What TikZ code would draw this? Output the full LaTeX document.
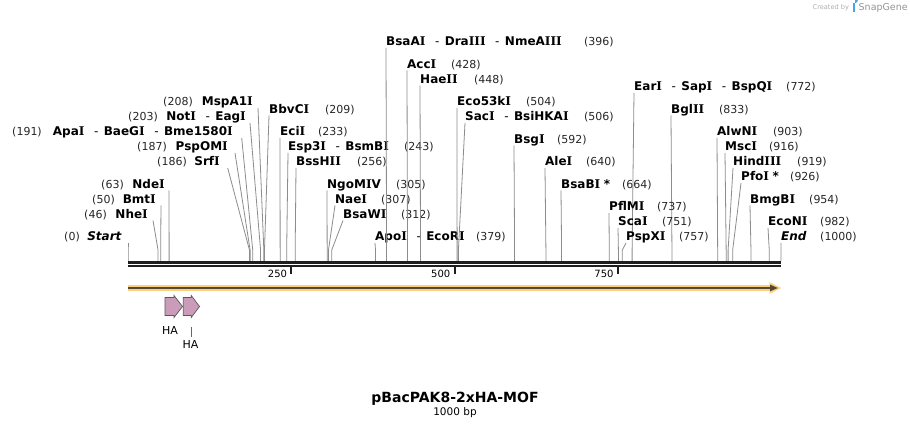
\documentclass[tikz,border=0pt]{standalone}
\usepackage{fontspec}
\setmainfont{DejaVu Sans}
\newfontfamily\dvserif{DejaVu Serif}
\definecolor{cutgray}{RGB}{140,140,140}
\definecolor{bbone}{RGB}{30,30,30}
\definecolor{featorange}{RGB}{252,208,125}
\definecolor{featdark}{RGB}{85,72,55}
\definecolor{hapink}{RGB}{203,156,186}
\definecolor{credgray}{RGB}{175,175,175}
\definecolor{logoblue}{RGB}{70,165,230}
\newcommand{\dsh}{\hspace{0.8em}\textmd{-}\hspace{0.45em}}
\newcommand{\sI}{{\dvserif\bfseries I}}
% right-hand label: id, name, name x, centre y, number x, bp
\newcommand{\enzR}[6]{%
  \node[enz, anchor=base west] (n#1) at (#3, #4+4.4) {#2};
  \node[numtxt, anchor=base west] (p#1) at (#5, #4+4.4) {(#6)};
  \coordinate (t#1) at (#3, #4+6.5);
  \coordinate (s#1) at ({128+0.653*#6}, 261);
  \draw[cutline] (s#1) -- ++(0,-11) -- (t#1);
}
% left-hand label: id, name, name right x, centre y, number right x, bp, line x
\newcommand{\enzL}[7]{%
  \node[enz, anchor=base east] (n#1) at (#3, #4+4.4) {#2};
  \node[numtxt, anchor=base east] (p#1) at (#5, #4+4.4) {(#6)};
  \coordinate (t#1) at (#7, #4+6.5);
  \coordinate (s#1) at ({128+0.653*#6}, 261);
  \draw[cutline] (s#1) -- ++(0,-11) -- (t#1);
}
\begin{document}
\begin{tikzpicture}[x=1pt, y=-1pt,
  enz/.style={font=\fontsize{12}{12}\selectfont\bfseries, inner sep=0pt, text=black},
  numtxt/.style={font=\fontsize{11}{11}\selectfont, inner sep=0pt, text=black!85},
  cutline/.style={draw=cutgray, line width=0.8pt},
  hashape/.style={fill=hapink, draw=black!65, line width=0.7pt, line join=miter},
  ticklbl/.style={font=\fontsize{10}{10}\selectfont, inner sep=0pt, anchor=base east}]
\fill[white] (0,0) rectangle (910,427);
\useasboundingbox (0,0) rectangle (910,427);

% credit
\node[font=\fontsize{6.6}{7}\selectfont, text=credgray, anchor=base west, inner sep=0pt] (cred) at (812.5,10) {Created by};
\fill[logoblue] (853,3) -- (855.2,3) -- (855.2,12.5) -- (853,12.5) -- cycle;
\fill[logoblue] (855.2,3) arc (90:-90:2.6) -- cycle;
\node[font=\fontsize{9.5}{10}\selectfont, text=credgray!85!black, anchor=base west, inner sep=0pt] (snap) at (858.5,11) {SnapGene};

% enzyme sites, left-hand labels
\enzL{start}{\textit{Start}}{122}{236.5}{80}{0}{128}
\enzL{nhe}{Nhe\sI}{148}{214}{107}{46}{153}
\enzL{bmt}{Bmt\sI}{156}{199}{115}{50}{161}
\enzL{nde}{Nde\sI}{165}{184}{124}{63}{169}
\enzL{srf}{Srf\sI}{220}{161.5}{187}{186}{227.7}
\enzL{pspo}{PspOM\sI}{228}{146.5}{167}{187}{235}
\enzL{apa}{Apa\sI\dsh BaeG\sI\dsh Bme1580\sI}{233}{131.5}{42}{191}{241.7}
\enzL{not}{Not\sI\dsh Eag\sI}{246}{116.5}{158}{203}{250}
\enzL{msp}{MspA1\sI}{253}{101.5}{193}{208}{258}

% enzyme sites, right-hand labels
\enzR{bbv}{BbvC\sI}{269}{109}{325}{209}
\enzR{eci}{Eci\sI}{280}{131.5}{318}{233}
\enzR{esp}{Esp3\sI\dsh BsmB\sI}{288}{146.5}{404}{243}
\enzR{bss}{BssH\sI\sI}{296}{161.5}{357}{256}
\enzR{ngo}{NgoM\sI V}{327}{184}{396}{305}
\enzR{nae}{Nae\sI}{335}{199}{381}{307}
\enzR{bsw}{BsaW\sI}{343}{214}{401}{312}
\enzR{apo}{Apo\sI\dsh EcoR\sI}{375}{236.5}{476}{379}
\enzR{bsaa}{BsaA\sI\dsh Dra\sI\sI\sI\dsh NmeA\sI\sI\sI}{386}{41.5}{584}{396}
\enzR{acc}{Acc\sI}{407}{64}{451}{428}
\enzR{hae}{Hae\sI\sI}{420}{79}{474}{448}
\enzR{ecok}{Eco53k\sI}{457}{101.5}{526}{504}
\enzR{sac}{Sac\sI\dsh BsiHKA\sI}{465}{116.5}{584}{506}
\enzR{bsg}{Bsg\sI}{514}{139}{557}{592}
\enzR{ale}{Ale\sI}{545}{161.5}{586}{640}
\enzR{bsab}{BsaB\sI\hspace{0.3em}*}{561}{184}{622}{664}
\enzR{ear}{Ear\sI\dsh Sap\sI\dsh BspQ\sI}{634}{86.5}{786}{772}
\enzR{bgl}{Bgl\sI\sI}{671}{109}{719}{833}
\enzR{pfl}{PflM\sI}{609}{206.5}{657}{737}
\enzR{sca}{Sca\sI}{618}{221.5}{662}{751}
\enzR{pspx}{PspX\sI}{626}{236.5}{679}{757}
\enzR{alw}{AlwN\sI}{717}{131.5}{773}{903}
\enzR{msc}{Msc\sI}{725}{146.5}{769}{916}
\enzR{hind}{Hind\sI\sI\sI}{733}{161.5}{797}{919}
\enzR{pfo}{Pfo\sI\hspace{0.3em}*}{741}{176.5}{790}{926}
\enzR{bmg}{BmgB\sI}{750}{199}{809}{954}
\enzR{econ}{EcoN\sI}{768}{221.5}{820}{982}
\enzR{end}{\textit{End}}{781}{236.5}{820}{1000}

% backbone
\draw[bbone, line width=3pt] (128,262.5) -- (781,262.5);
\draw[bbone, line width=2pt] (128,266.4) -- (781,266.4);
\foreach \t/\lab in {250/250, 500/500, 750/750}{
  \draw[bbone, line width=2pt] ({128+0.653*\t},266) -- ({128+0.653*\t},274.5);
  \node[ticklbl] (tick\t) at ({128+0.653*\t-4},277.8) {\lab};
}

% feature line
\draw[featorange, line width=5.6pt] (128,288) -- (772,288);
\fill[featorange] (769.5,282.2) -- (781,288) -- (769.5,293.8) -- cycle;
\draw[featdark, line width=2pt] (128,288) -- (771,288);
\fill[featdark] (770,284.6) -- (777.8,288) -- (770,291.4) -- cycle;

% HA features
\draw[hashape] (165,297.5) -- (174,297.5) -- (174,295.5) -- (182.5,306.5) -- (174,317.5) -- (174,315.5) -- (165,315.5) -- cycle;
\draw[hashape] (183.3,297.5) -- (191.3,297.5) -- (191.3,295.5) -- (199.5,306.5) -- (191.3,317.5) -- (191.3,315.5) -- (183.3,315.5) -- cycle;
\node[font=\fontsize{11}{11}\selectfont, inner sep=0pt, anchor=base] (ha1) at (170,334.5) {HA};
\node[font=\fontsize{11}{11}\selectfont, inner sep=0pt, anchor=base] (ha2) at (190.5,348.5) {HA};
\coordinate (ha2top) at (191.3,327.5);
\draw[black!60, line width=0.7pt] (ha2top) -- (191.3,337);

% title
\node[font=\fontsize{14}{14}\selectfont\bfseries, inner sep=0pt, anchor=base] (title) at (455,402.5) {pBacPAK8-2xHA-MOF};
\node[font=\fontsize{10.5}{11}\selectfont, inner sep=0pt, anchor=base] (len) at (455,415) {1000 bp};
\end{tikzpicture}
\end{document}
